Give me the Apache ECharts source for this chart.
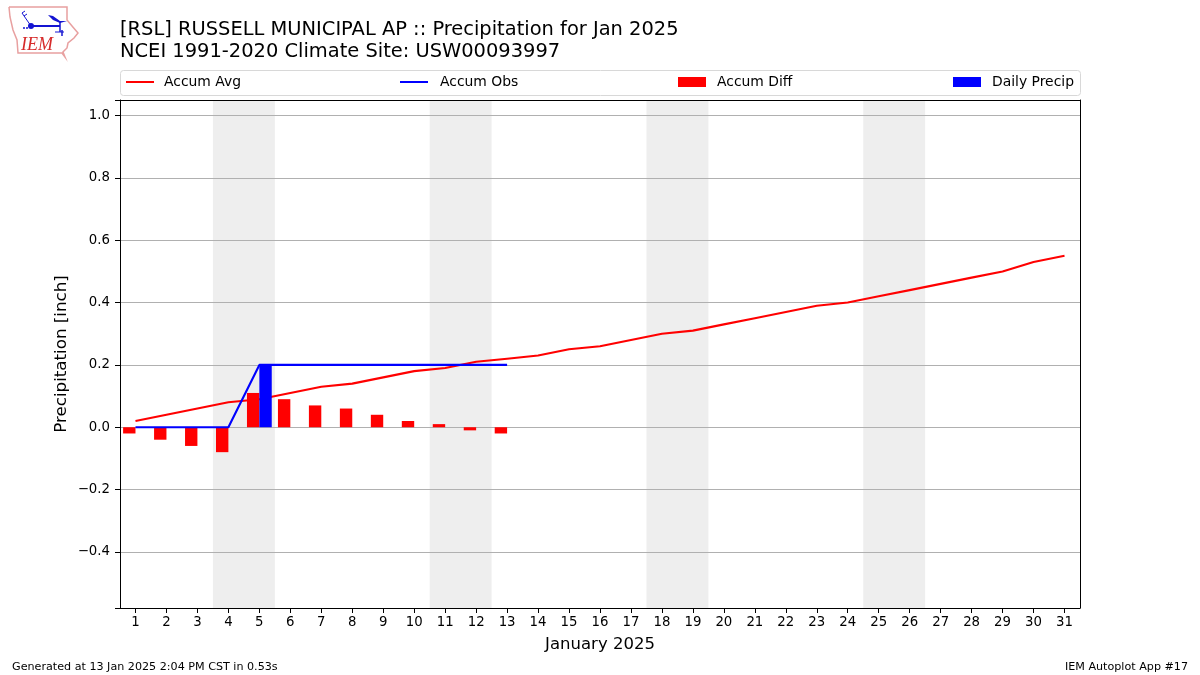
<!DOCTYPE html>
<html>
<head>
<meta charset="utf-8">
<style>
  html, body { margin: 0; padding: 0; background: #fff; }
  #chart { width: 1200px; height: 675px; }
</style>
<script src="https://cdn.jsdelivr.net/npm/echarts@6/dist/echarts.min.js"></script>
</head>
<body>
<div id="chart"></div>
<script>
const days = ['1','2','3','4','5','6','7','8','9','10','11','12','13','14','15','16','17','18','19','20','21','22','23','24','25','26','27','28','29','30','31'];
const accumAvg = [0.02,0.04,0.06,0.08,0.09,0.11,0.13,0.14,0.16,0.18,0.19,0.21,0.22,0.23,0.25,0.26,0.28,0.30,0.31,0.33,0.35,0.37,0.39,0.40,0.42,0.44,0.46,0.48,0.50,0.53,0.55];
const accumObs = [0,0,0,0,0.2,0.2,0.2,0.2,0.2,0.2,0.2,0.2,0.2];
const accumDiff = [-0.02,-0.04,-0.06,-0.08,0.11,0.09,0.07,0.06,0.04,0.02,0.01,-0.01,-0.02];
const dailyPrecip = [0,0,0,0,0.2,0,0,0,0,0,0,0,0];
// weekends get the grey band, day numbers on a hidden value axis
const weekendSpans = [[3.5,5.5],[10.5,12.5],[17.5,19.5],[24.5,26.5]];
const yTicks = [-0.4,-0.2,0,0.2,0.4,0.6,0.8,1.0];

const FONT = 'DejaVu Sans';
const BLUE = '#1414d2';
const chart = echarts.init(document.getElementById('chart'));

function legendItem(name, left, isLine, gap) {
  return {
    data: [name],
    left: left,
    top: 75,
    padding: 0,
    itemWidth: 28,
    itemHeight: isLine ? 2 : 10,
    itemGap: 0,
    icon: 'rect',
    selectedMode: false,
    textStyle: { fontFamily: FONT, fontSize: 13.9, color: '#000', padding: [0, 0, 0, gap] }
  };
}

function logoLine(points, lineWidth) {
  return { type: 'polyline', shape: { points: points }, style: { fill: 'none', stroke: BLUE, lineWidth: lineWidth } };
}

chart.setOption({
  animation: false,
  backgroundColor: '#fff',
  title: [
    { text: '[RSL] RUSSELL MUNICIPAL AP :: Precipitation for Jan 2025', left: 120, top: 20, padding: 0,
      textStyle: { fontFamily: FONT, fontSize: 19.45, fontWeight: 'normal', color: '#000' } },
    { text: 'NCEI 1991-2020 Climate Site: USW00093997', left: 120, top: 42, padding: 0,
      textStyle: { fontFamily: FONT, fontSize: 19.45, fontWeight: 'normal', color: '#000' } },
    { text: 'Generated at 13 Jan 2025 2:04 PM CST in 0.53s', left: 12, top: 662, padding: 0,
      textStyle: { fontFamily: FONT, fontSize: 11.15, fontWeight: 'normal', color: '#000' } },
    { text: 'IEM Autoplot App #17', right: 12, top: 662, padding: 0,
      textStyle: { fontFamily: FONT, fontSize: 11.15, fontWeight: 'normal', color: '#000' } }
  ],
  legend: [
    legendItem('Accum Avg', 126, true, 5),
    legendItem('Accum Obs', 400, true, 7),
    legendItem('Accum Diff', 678, false, 6),
    legendItem('Daily Precip', 953, false, 6)
  ],
  graphic: [
    { type: 'rect', z: 0, shape: { x: 120.5, y: 70.5, width: 960, height: 25, r: 3 },
      style: { fill: '#fff', stroke: '#d8d8d8', lineWidth: 1 } },
    // IEM logo, outline of Iowa plus the station model
    { type: 'polyline', shape: { points: [[9,7],[67,7],[67,20],[72,26],[78,33],[74,38],[68,43],[67,48],[63,52],[65,57],[62,53],[18,53],[17,40],[13,30],[10,17],[9,7]] },
      style: { fill: 'none', stroke: '#e8a0a0', lineWidth: 1.5 } },
    logoLine([[31,26],[60,26]], 2),
    { type: 'circle', shape: { cx: 31, cy: 26, r: 3 }, style: { fill: BLUE } },
    logoLine([[31,26],[22,13],[25,11]], 1),
    logoLine([[24,16],[27,14]], 1),
    { type: 'circle', shape: { cx: 24, cy: 28, r: 1 }, style: { fill: BLUE } },
    { type: 'circle', shape: { cx: 27, cy: 28, r: 1 }, style: { fill: BLUE } },
    { type: 'polygon', shape: { points: [[48,15],[53,16],[60,21],[67,21],[60,23],[53,20]] }, style: { fill: BLUE } },
    logoLine([[60,22],[60,32]], 1.5),
    logoLine([[55,32],[64,32]], 1),
    logoLine([[62,30],[62,36]], 1.5),
    { type: 'text', style: { x: 21, y: 36, text: 'IEM', fill: '#d62a2a', font: 'italic 18px "Liberation Serif"' } }
  ],
  grid: [
    { left: 120, width: 960, top: 100, height: 508, show: false }
  ],
  xAxis: [
    {
      type: 'category', data: days, boundaryGap: true, z: 2,
      name: 'January 2025', nameLocation: 'middle', nameGap: 28, nameMoveOverlap: false,
      nameTextStyle: { fontFamily: FONT, fontSize: 16.5, color: '#000' },
      axisLine: { show: true, onZero: false, lineStyle: { color: '#000', width: 1 } },
      axisTick: { show: true, alignWithLabel: true, length: 5, lineStyle: { color: '#000', width: 1 } },
      axisLabel: { interval: 0, fontFamily: FONT, fontSize: 13.3, color: '#000', margin: 8 },
      splitLine: { show: false }
    },
    // top edge of the frame, also the day scale for the weekend bands
    {
      type: 'value', min: 0.5, max: 31.5, position: 'top', z: 2,
      axisLine: { show: true, onZero: false, lineStyle: { color: '#000', width: 1 } },
      axisTick: { show: false }, axisLabel: { show: false }, splitLine: { show: false }
    }
  ],
  yAxis: [
    {
      type: 'value', min: -0.58, max: 1.05, splitNumber: 8, z: 2,
      name: 'Precipitation [inch]', nameLocation: 'middle', nameGap: 50, nameRotate: 90, nameMoveOverlap: false,
      nameTextStyle: { fontFamily: FONT, fontSize: 16.7, color: '#000' },
      axisLine: { show: true, onZero: false, lineStyle: { color: '#000', width: 1 } },
      axisTick: { show: true, length: 5, lineStyle: { color: '#000', width: 1 } },
      axisLabel: {
        customValues: yTicks, fontFamily: FONT, fontSize: 13.3, color: '#000', margin: 10,
        formatter: v => (v < 0 ? '\u2212' : '') + Math.abs(v).toFixed(1)
      },
      splitLine: { show: true, lineStyle: { color: '#b0b0b0', width: 1 } }
    },
    // right edge of the frame
    {
      type: 'value', min: 0, max: 1, position: 'right', z: 2,
      axisLine: { show: true, onZero: false, lineStyle: { color: '#000', width: 1 } },
      axisTick: { show: false }, axisLabel: { show: false }, splitLine: { show: false }
    }
  ],
  series: [
    {
      name: 'weekend', type: 'line', xAxisIndex: 1, yAxisIndex: 1, z: 1, silent: true, data: [],
      markArea: {
        silent: true,
        itemStyle: { color: '#eeeeee' },
        data: weekendSpans.map(s => [{ xAxis: s[0], yAxis: 0 }, { xAxis: s[1], yAxis: 1 }])
      }
    },
    {
      name: 'Accum Avg', type: 'line', data: accumAvg, z: 3, symbol: 'none',
      itemStyle: { color: '#ff0000' }, lineStyle: { color: '#ff0000', width: 2.1 }
    },
    {
      name: 'Accum Diff', type: 'bar', data: accumDiff, z: 4, barWidth: '40%', barGap: '0%',
      itemStyle: { color: '#ff0000' }
    },
    {
      name: 'Daily Precip', type: 'bar', data: dailyPrecip, z: 4, barWidth: '40%', barGap: '0%',
      itemStyle: { color: '#0000ff' }
    },
    {
      name: 'Accum Obs', type: 'line', data: accumObs, z: 5, symbol: 'none',
      itemStyle: { color: '#0000ff' }, lineStyle: { color: '#0000ff', width: 2.1 }
    }
  ]
});
</script>
</body>
</html>
